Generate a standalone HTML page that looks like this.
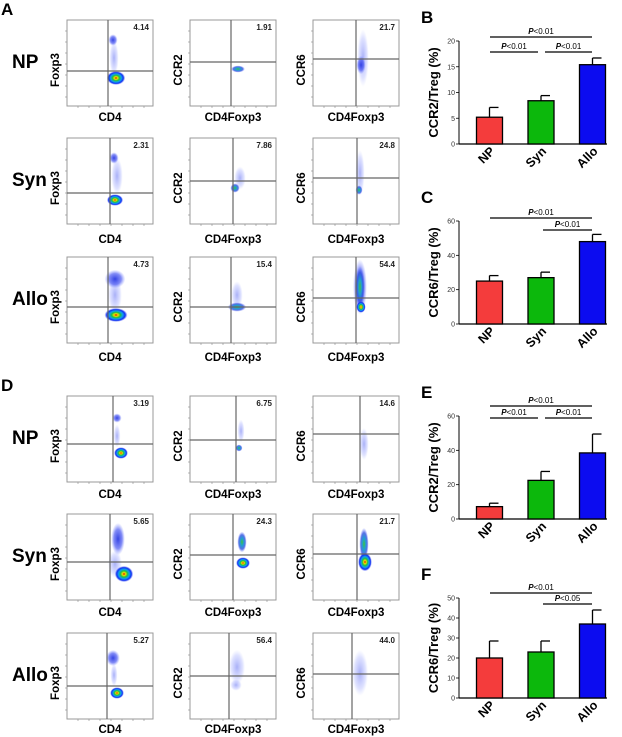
<!DOCTYPE html>
<html><head><meta charset="utf-8"><style>
html,body{margin:0;padding:0;background:#fff}
svg{display:block;font-family:"Liberation Sans",Arial,sans-serif}
</style></head><body>
<svg id="fig" width="622" height="737" viewBox="0 0 622 737" xmlns="http://www.w3.org/2000/svg">
<defs>
<radialGradient id="hot"><stop offset="0" stop-color="#e00000"/><stop offset="0.18" stop-color="#f0e000"/><stop offset="0.38" stop-color="#20c040"/><stop offset="0.58" stop-color="#10a0f0"/><stop offset="0.8" stop-color="#1030f0"/><stop offset="1" stop-color="#4050ff" stop-opacity="0"/></radialGradient>
<radialGradient id="warm"><stop offset="0" stop-color="#40c040"/><stop offset="0.35" stop-color="#20a0d0"/><stop offset="0.7" stop-color="#3050e0" stop-opacity="0.8"/><stop offset="1" stop-color="#6070ff" stop-opacity="0"/></radialGradient>
<radialGradient id="blue"><stop offset="0" stop-color="#2030e0" stop-opacity="0.9"/><stop offset="0.6" stop-color="#3040f0" stop-opacity="0.6"/><stop offset="1" stop-color="#6070ff" stop-opacity="0"/></radialGradient>
<radialGradient id="faint"><stop offset="0" stop-color="#4050ee" stop-opacity="0.45"/><stop offset="0.7" stop-color="#6070ff" stop-opacity="0.2"/><stop offset="1" stop-color="#8090ff" stop-opacity="0"/></radialGradient>
</defs>
<g id="flow"></g>
<g id="bars"></g>
</svg>
<script>
const NS="http://www.w3.org/2000/svg";
function mk(parent,tag,attrs,txt){const e=document.createElementNS(NS,tag);for(const k in attrs)e.setAttribute(k,attrs[k]);if(txt!==undefined)e.textContent=txt;parent.appendChild(e);return e;}
const flow=document.getElementById('flow');
const bars=document.getElementById('bars');

const colX=[67,190,313];
const rowYA=[20,138,257], rowYD=[396,514,633];
const xLabels=["CD4","CD4Foxp3","CD4Foxp3"];
const yLabelsA=["Foxp3","CCR2","CCR6"];
const rowNames=["NP","Syn","Allo"];
const pctA=[["4.14","1.91","21.7"],["2.31","7.86","24.8"],["4.73","15.4","54.4"]];
const pctD=[["3.19","6.75","14.6"],["5.65","24.3","21.7"],["5.27","56.4","44.0"]];
const gatesA=[[[108,71],[231,62],[356,59]],[[110,193],[233,181],[357,178]],[[108,307],[231,307],[356,298]]];
const gatesD=[[[113,444],[236,440],[360,434]],[[110,562],[233,555],[357,554]],[[107,686],[229,676],[352,674]]];
const clA=[
 [[["faint",47,38,4,15],["blue",46,20,4,5],["hot",49,58,8,6]],[["warm",48,49,6,3]],[["faint",50,38,5,25],["blue",48,45,4,8]]],
 [[["faint",50,38,5,16],["blue",47,20,4,5],["hot",48,62,7,5]],[["faint",50,40,5,10],["warm",45,50,4,4]],[["faint",47,35,4,20],["warm",46,52,3,4]]],
 [[["faint",48,38,6,16],["blue",48,22,9,8],["hot",49,58,10,6]],[["faint",47,38,5,12],["warm",47,50,8,4]],[["blue",47,30,6,24],["warm",47,30,4,18],["hot",48,50,4,5]]]
];
const clD=[
 [[["faint",50,40,3,10],["blue",50,22,4,4],["hot",54,57,6,5]],[["faint",51,35,3,10],["warm",49,52,3,3]],[["faint",51,48,4,14]]],
 [[["faint",48,50,6,12],["blue",51,25,6,14],["hot",57,60,8,7]],[["warm",52,28,4,9],["hot",53,49,6,5]],[["warm",51,30,4,14],["hot",52,48,6,8]]],
 [[["faint",47,42,3,10],["blue",46,25,6,7],["hot",50,60,6,5]],[["faint",47,34,7,15],["faint",46,52,5,5]],[["faint",47,40,7,20]]]
];
function flowPanel(letter,rowY,pct,gates,cl,labY){
  mk(flow,'text',{x:1,y:rowY[0]-5,'font-size':17,'font-weight':'bold',},letter);
  for(let r=0;r<3;r++){
    const y0=rowY[r];
    mk(flow,'text',{x:12,y:y0+48,'font-size':19,'font-weight':'bold',},rowNames[r]);
    for(let c=0;c<3;c++){
      const x0=colX[c];
      const g=mk(flow,'g',{});
      
      
      mk(g,'rect',{x:x0,y:y0,width:86,height:86,fill:'#fff',stroke:'#999','stroke-width':1});
      for(const k of cl[r][c]){
        mk(g,'ellipse',{cx:x0+k[1],cy:y0+k[2],rx:k[3]*1.15,ry:k[4]*1.15,fill:'url(#'+k[0]+')'});
      }
      const [vx,hy]=gates[r][c];
      mk(g,'line',{x1:vx,y1:y0,x2:vx,y2:y0+86,stroke:'#666','stroke-width':1.2});
      mk(g,'line',{x1:x0,y1:hy,x2:x0+86,y2:hy,stroke:'#666','stroke-width':1.2});
      for(let t=1;t<8;t++){
        mk(g,'line',{x1:x0+t*11,y1:y0+86,x2:x0+t*11,y2:y0+88,stroke:'#888','stroke-width':0.6});
        mk(g,'line',{x1:x0-2,y1:y0+t*11,x2:x0,y2:y0+t*11,stroke:'#888','stroke-width':0.6});
      }
      mk(g,'text',{x:x0+82,y:y0+10,'font-size':8,'font-weight':'bold','text-anchor':'end',fill:'#222'},pct[r][c]);
      const xl=mk(flow,'text',{x:x0+43,y:labY[r],'font-size':11.5,'font-weight':'bold','text-anchor':'middle'},xLabels[c]);
      
      
      const yl=mk(flow,'text',{x:0,y:0,'font-size':11.5,'font-weight':'bold','text-anchor':'middle',transform:`translate(${x0-8},${y0+50}) rotate(-90)`},yLabelsA[c]);
      
      
    }
  }
}
flowPanel('A',rowYA,pctA,gatesA,clA,[121,243,361]);
flowPanel('D',rowYD,pctD,gatesD,clD,[498,616,733]);

const categories=["NP","Syn","Allo"];
const bValues=[5.2,8.4,15.4], bErrors=[1.9,1.0,1.3], bTicks=[0,5,10,15,20];
const cValues=[25,27,48], cErrors=[3.2,3.2,4.2], cTicks=[0,20,40,60];
const eValues=[7.2,22.5,38.5], eErrors=[2.0,5.2,11.0], eTicks=[0,20,40,60];
const fValues=[20,23,37], fErrors=[8.5,5.5,7.0], fTicks=[0,10,20,30,40,50];
const barColors=["#f43c3c","#0cb80c","#0c0cf0"];

function barPanel(letter,yTitle,vals,errs,ticks,yTop,yBot,sig){
  const axX=459, max=ticks[ticks.length-1];
  const xC=i=>489.5+i*51.5;
  const yS=v=>yBot-(v/max)*(yBot-yTop);
  const g=mk(bars,'g',{});
  
  
  const pl=mk(g,'text',{x:421,y:yTop-18,'font-size':17,'font-weight':'bold'},letter);
  
  
  mk(g,'line',{x1:axX,y1:yTop,x2:axX,y2:yBot,stroke:'#000','stroke-width':1});
  mk(g,'line',{x1:axX,y1:yBot,x2:607,y2:yBot,stroke:'#000','stroke-width':1.2});
  ticks.forEach(t=>{
    mk(g,'line',{x1:axX-3,y1:yS(t),x2:axX,y2:yS(t),stroke:'#000','stroke-width':0.8});
    const tl=mk(g,'text',{x:axX-4,y:yS(t)+2.5,'font-size':7,'text-anchor':'end',fill:'#333'},String(t));
    
    
  });
  const yt=mk(g,'text',{x:0,y:0,'font-size':13,'font-weight':'bold','text-anchor':'middle',transform:`translate(438,${(yTop+yBot)/2}) rotate(-90)`},yTitle);
  
  
  vals.forEach((v,i)=>{
    const xc=xC(i), top=yS(v+errs[i]);
    mk(g,'line',{x1:xc,y1:yS(v),x2:xc,y2:top,stroke:'#000','stroke-width':1.3});
    mk(g,'line',{x1:xc,y1:top,x2:xc+9,y2:top,stroke:'#000','stroke-width':1.3});
    const b=mk(g,'rect',{x:xc-13,y:yS(v),width:26,height:yBot-yS(v),fill:barColors[i],stroke:'#000','stroke-width':1.3});
    
    
    const xl=mk(g,'text',{x:0,y:0,'font-size':12.5,'font-weight':'bold','text-anchor':'end',transform:`translate(${xc+6},${yBot+8}) rotate(-45)`},categories[i]);
    
    
  });
  sig.forEach(s=>{
    const [x1,x2,ly,txt]=s;
    mk(g,'line',{x1:x1,y1:ly,x2:x2,y2:ly,stroke:'#000','stroke-width':1.3});
    const st=mk(g,'text',{x:(x1+x2)/2,y:ly-3,'font-size':8,'text-anchor':'middle'});
    
    
    mk(st,'tspan',{'font-style':'italic','font-weight':'bold'},'P');
    mk(st,'tspan',{},txt);
  });
}
barPanel('B','CCR2/Treg (%)',bValues,bErrors,bTicks,41,144,[[490,592,37,'<0.01'],[490,538,52,'<0.01'],[545,592,52,'<0.01']]);
barPanel('C','CCR6/Treg (%)',cValues,cErrors,cTicks,221,324,[[490,592,218,'<0.01'],[543,592,230,'<0.01']]);
barPanel('E','CCR2/Treg (%)',eValues,eErrors,eTicks,416,519,[[490,592,406,'<0.01'],[490,538,418,'<0.01'],[545,592,418,'<0.01']]);
barPanel('F','CCR6/Treg (%)',fValues,fErrors,fTicks,598,698,[[490,592,593,'<0.01'],[543,592,604,'<0.05']]);
</script>
</body></html>
